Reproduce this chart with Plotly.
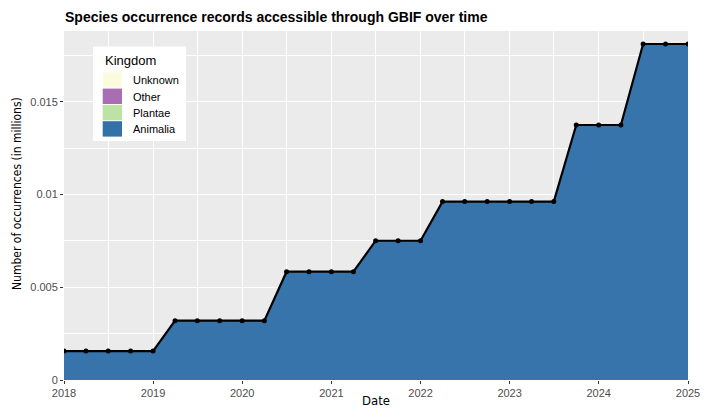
import plotly.graph_objects as go

# ---- data ----
dates = [
    "2018-01-01", "2018-04-01", "2018-07-01", "2018-10-01",
    "2019-01-01", "2019-04-01", "2019-07-01", "2019-10-01",
    "2020-01-01", "2020-04-01", "2020-07-01", "2020-10-01",
    "2021-01-01", "2021-04-01", "2021-07-01", "2021-10-01",
    "2022-01-01", "2022-04-01", "2022-07-01", "2022-10-01",
    "2023-01-01", "2023-04-01", "2023-07-01", "2023-10-01",
    "2024-01-01", "2024-04-01", "2024-07-01", "2024-10-01",
    "2025-01-01",
]
animalia = [
    0.00156, 0.00156, 0.00156, 0.00156, 0.00156,
    0.00320, 0.00320, 0.00320, 0.00320, 0.00320,
    0.00584, 0.00584, 0.00584, 0.00584,
    0.00751, 0.00751, 0.00751,
    0.00962, 0.00962, 0.00962, 0.00962, 0.00962, 0.00962,
    0.01375, 0.01375, 0.01375,
    0.01812, 0.01812, 0.01812,
]
total = animalia
kingdoms = ["Unknown", "Other", "Plantae", "Animalia"]
kingdom_colors = ["#FBFBDD", "#A96DB4", "#BCE3A4", "#3372A8"]
y_tickvals = [0, 0.005, 0.01, 0.015]
y_ticktext = ["0", "0.005", "0.01", "0.015"]
x_tickvals = ["2018-01-01", "2019-01-01", "2020-01-01", "2021-01-01",
              "2022-01-01", "2023-01-01", "2024-01-01", "2025-01-01"]
x_ticktext = ["2018", "2019", "2020", "2021", "2022", "2023", "2024", "2025"]

NARROW = "Liberation Sans Narrow, DejaVu Sans Condensed, Arial Narrow, sans-serif"
SANS = "Liberation Sans, Arial, Helvetica, sans-serif"

W, H = 706, 408
L, R, T, B = 64, 18, 31, 28
PW, PH = W - L - R, H - T - B


def px(xp):
    return (xp - L) / PW


def py(yp):
    return (H - B - yp) / PH


fig = go.Figure()

# Animalia area
fig.add_trace(go.Scatter(
    x=dates, y=animalia, mode="lines", fill="tozeroy",
    fillcolor="rgba(44,110,168,0.95)",
    line=dict(width=0, color="rgba(44,110,168,0.95)"),
    showlegend=False, hoverinfo="skip",
))

# total line with points
fig.add_trace(go.Scatter(
    x=dates, y=total, mode="lines+markers",
    line=dict(color="black", width=2.2),
    marker=dict(color="black", size=5),
    showlegend=False,
))

fig.update_layout(
    width=W, height=H,
    margin=dict(l=L, r=R, t=T, b=B, autoexpand=False),
    paper_bgcolor="white",
    plot_bgcolor="#EBEBEB",
    showlegend=False,
    title=dict(
        text="<b>Species occurrence records accessible through GBIF over time</b>",
        font=dict(family=SANS, size=14, color="black"),
        x=65 / W, xref="container", xanchor="left",
        y=1 - 17 / H, yref="container", yanchor="middle",
    ),
)

fig.update_xaxes(
    type="date",
    range=["2018-01-01", "2025-01-01"],
    tickvals=x_tickvals, ticktext=x_ticktext,
    showgrid=True, gridcolor="white", gridwidth=1.1,
    minor=dict(dtick="M6", tick0="2018-07-01", showgrid=True, gridcolor="white", gridwidth=0.55),
    ticks="outside", ticklen=3, tickcolor="#333333", tickwidth=1,
    tickfont=dict(family=SANS, size=11, color="#4D4D4D"),
    zeroline=False, showline=False,
)
fig.update_yaxes(
    range=[0, 0.01882],
    tickvals=y_tickvals, ticktext=y_ticktext,
    showgrid=True, gridcolor="white", gridwidth=1.1,
    minor=dict(dtick=0.0025, tick0=0.0025, showgrid=True, gridcolor="white", gridwidth=0.55),
    ticks="outside", ticklen=3, tickcolor="#333333", tickwidth=1,
    tickfont=dict(family=SANS, size=11, color="#4D4D4D"),
    zeroline=False, showline=False,
)

# ---- manual legend (ggplot style) ----
fig.add_shape(type="rect", xref="paper", yref="paper",
              x0=px(93), x1=px(186), y0=py(46.5), y1=py(141),
              fillcolor="white", line=dict(width=0), layer="above")
fig.add_annotation(text="Kingdom", xref="paper", yref="paper",
                   x=px(102.5), y=py(60.5), xanchor="left", yanchor="middle",
                   showarrow=False, font=dict(family=SANS, size=13, color="black"))
for i, (name, col) in enumerate(zip(kingdoms, kingdom_colors)):
    top = 72.3 + i * 16.3
    fig.add_shape(type="rect", xref="paper", yref="paper",
                  x0=px(102.7), x1=px(122), y0=py(top), y1=py(top + 15.4),
                  fillcolor=col, line=dict(width=0), layer="above")
    fig.add_annotation(text=name, xref="paper", yref="paper",
                       x=px(130.5), y=py(top + 8), xanchor="left", yanchor="middle",
                       showarrow=False, font=dict(family=SANS, size=11, color="black"))

fig.add_annotation(
    text="Number of occurrences (in millions)",
    xref="paper", yref="paper",
    x=px(17), y=py(194),
    xanchor="center", yanchor="middle", textangle=-90,
    showarrow=False, font=dict(family=NARROW, size=12, color="black"),
)
fig.add_annotation(
    text="Date",
    xref="paper", yref="paper",
    x=px(376), y=py(400),
    xanchor="center", yanchor="middle",
    showarrow=False, font=dict(family=NARROW, size=13, color="black"),
)

fig.write_html("out.html",
               config={"displayModeBar": False, "staticPlot": False},
               post_script="document.body.style.margin='0';document.body.style.overflow='hidden';")
